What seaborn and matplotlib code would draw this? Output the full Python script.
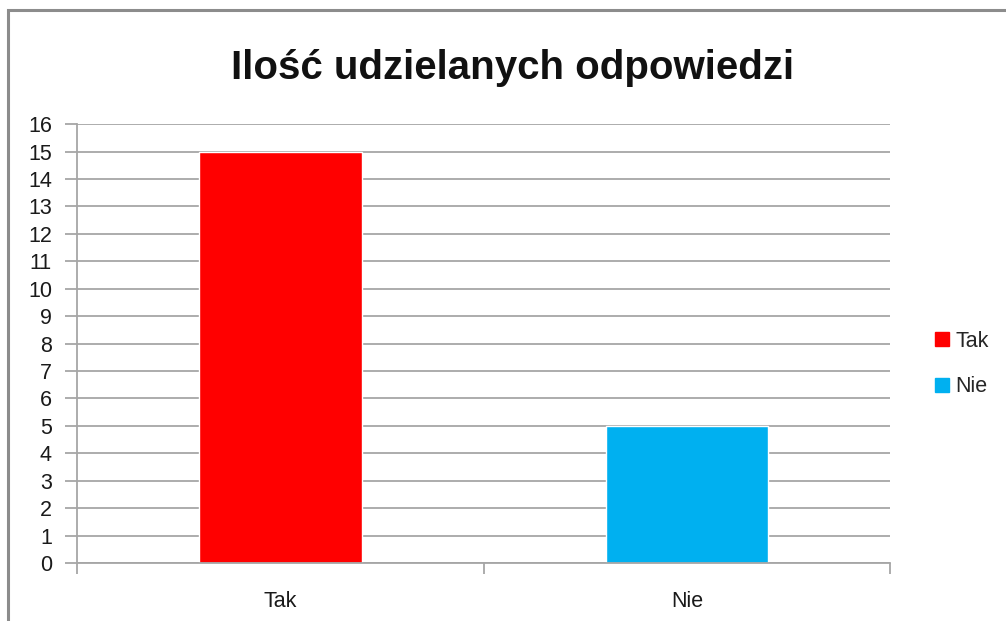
import matplotlib
matplotlib.use("Agg")
import matplotlib.pyplot as plt
from matplotlib.patches import Rectangle
import seaborn as sns
import pandas as pd

# DANE
categories = ["Tak", "Nie"]
values = [15, 5]
colors = ["#FF0000", "#00B0F0"]
y_ticks = list(range(0, 17))
title = "Ilość udzielanych odpowiedzi"

sns.set_style("white")
plt.rcParams['font.family'] = ['Liberation Sans', 'DejaVu Sans']

df = pd.DataFrame({"kategoria": categories, "ilosc": values})

fig = plt.figure(figsize=(10.06, 6.21), dpi=100)
ax = fig.add_axes([0.0765, 0.0934, 0.8085, 0.7066])

sns.barplot(data=df, x="kategoria", y="ilosc", hue="kategoria",
            palette=colors, dodge=False, width=0.4, saturation=1,
            legend=False, ax=ax)

grid_col = "#A6A6A6"
ax.set_ylim(0, 16)
ax.set_xlim(-0.5, 1.5)
ax.set_yticks(y_ticks)
ax.yaxis.grid(True, color=grid_col, linewidth=1.3)
ax.set_axisbelow(True)
ax.set_xlabel("")
ax.set_ylabel("")

for s in ["top", "right"]:
    ax.spines[s].set_visible(False)
for s in ["left", "bottom"]:
    ax.spines[s].set_color(grid_col)
    ax.spines[s].set_linewidth(1.3)

ax.tick_params(axis="y", direction="out", length=9, width=1.3, color=grid_col,
               labelsize=15.5, labelcolor="#1a1a1a", pad=9, left=True)
# ticks between categories (Excel style)
ax.set_xticks([-0.5, 0.5, 1.5], minor=True)
ax.tick_params(axis="x", which="minor", direction="out", length=8, width=1.3,
               color=grid_col, bottom=True)
ax.tick_params(axis="x", which="major", length=0, labelsize=15.5,
               labelcolor="#1a1a1a", pad=20)

fig.text(0.51, 0.89, title, ha="center", va="center",
         fontsize=29, fontweight="bold", color="#111111")

# legenda
handles = [Rectangle((0, 0), 1, 1, color=c) for c in colors]
fig.legend(handles, categories, loc="center left",
           bbox_to_anchor=(0.91, 0.414), frameon=False, fontsize=15.5,
           handlelength=0.65, handleheight=0.65, handletextpad=0.3,
           labelspacing=1.15)

# ramka wykresu
fig.patches.append(Rectangle((8 / 1006, -0.05), 1.1, 1 - 10 / 621 + 0.05,
                             transform=fig.transFigure, fill=False,
                             edgecolor="#8C8C8C", linewidth=2.2))

fig.savefig("out.png", dpi=100)
